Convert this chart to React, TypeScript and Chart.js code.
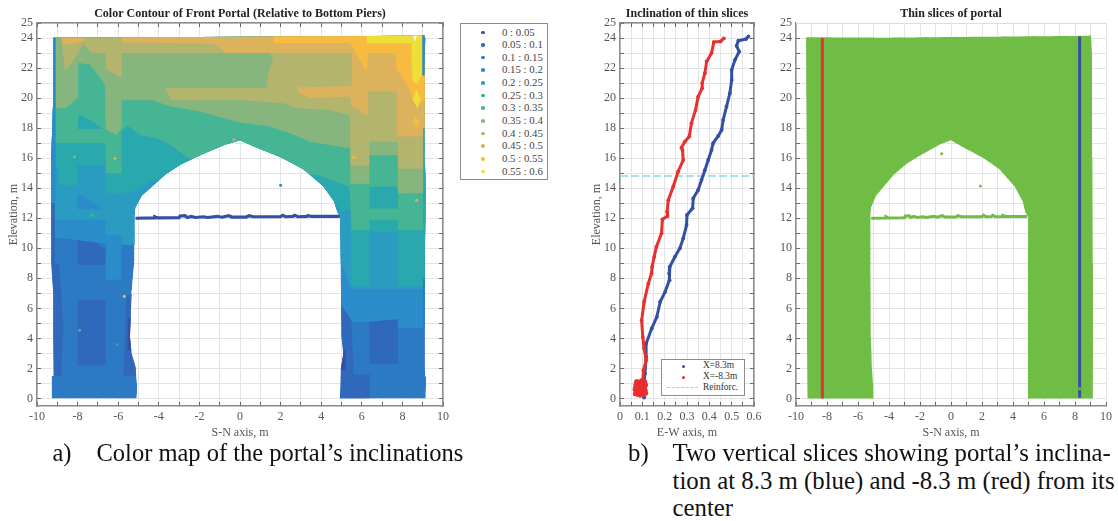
import React, { useEffect, useRef } from "react";
import { Chart, registerables } from "chart.js";
Chart.register(...registerables);

type Pt = [number, number];
const SERIF = '"Liberation Serif", "Times New Roman", serif';

// ---------- tick values ----------
const elevationTicks = [0,1,2,3,4,5,6,7,8,9,10,11,12,13,14,15,16,17,18,19,20,21,22,23,24,25];
const elevationLabels = [0,2,4,6,8,10,12,14,16,18,20,22,24,25];
const snTicks = [-10,-9,-8,-7,-6,-5,-4,-3,-2,-1,0,1,2,3,4,5,6,7,8,9,10];
const snLabels = [-10,-8,-6,-4,-2,0,2,4,6,8,10];
const ewTicks = [0,0.05,0.1,0.15,0.2,0.25,0.3,0.35,0.4,0.45,0.5,0.55,0.6];
const ewLabels = [0,0.1,0.2,0.3,0.4,0.5,0.6];

// ---------- legend ----------
const levelLabels = ["0 : 0.05","0.05 : 0.1","0.1 : 0.15","0.15 : 0.2","0.2 : 0.25","0.25 : 0.3","0.3 : 0.35","0.35 : 0.4","0.4 : 0.45","0.45 : 0.5","0.5 : 0.55","0.55 : 0.6"];
const levelColors = ["#3650a8","#3068bb","#2c7ac3","#2a8cc8","#2a9cc2","#29a8ae","#46b594","#86b67e","#b3b56e","#dcb25c","#f6bb40","#ece036"];

// ---------- portal shape ----------
const portalOutline: Pt[] = [[-9.28,0],[-9.28,1.5],[-9.18,1.5],[-9.2,4],[-9.2,7],[-9.3,9],[-9.3,16],[-9.2,20],[-9.2,24.02],[-4,24.05],[2,24.1],[8.7,24.15],[8.95,24.2],[9.08,24.2],[9.12,24],[9.1,22],[9.1,16],[9.15,14],[9.1,9],[9.1,2],[9.13,1.5],[9.17,1.45],[9.15,0],[4.92,0],[4.95,0.8],[4.97,2],[5.09,3],[5,4.1],[4.96,9.2],[4.93,12.1],[4.8,12.4],[4.62,13.15],[4.09,14.15],[3.12,15.27],[2.04,16.04],[0.75,16.75],[0,17.2],[-0.75,16.9],[-1.83,16.27],[-2.9,15.6],[-3.66,14.93],[-4.3,14.15],[-4.84,13.5],[-5.16,12.7],[-5.2,12.15],[-5.2,9.2],[-5.34,7],[-5.42,4.1],[-5.34,3],[-5.14,2.1],[-5.06,0.8],[-5.09,0]];
const sliceOutline: Pt[] = [[-9.25,0],[-9.29,4],[-9.29,9],[-9.3,16],[-9.33,20],[-9.35,24.05],[-4,24.02],[2,24.08],[8.9,24.15],[9.03,24.2],[9.1,23],[9.12,16],[9.16,9],[9.16,0],[4.97,0],[4.97,3],[4.97,9],[4.98,12.1],[4.8,12.4],[4.62,13.15],[4.09,14.15],[3.12,15.27],[2.04,16.04],[0.75,16.75],[0,17.2],[-0.75,16.9],[-1.83,16.27],[-2.9,15.6],[-3.66,14.93],[-4.3,14.15],[-4.84,13.5],[-5.16,12.7],[-5.2,12.15],[-5.2,9],[-5.16,4],[-5.1,2],[-5.03,1],[-5,0]];
const lintelBeam: Pt[] = [[-5.15,12.0],[-4.2,12.02],[-4.2,12.1],[-4.05,12.02],[-3,12.04],[-2.95,12.15],[-2.7,12.17],[-2.6,12.05],[-2.4,12.12],[-2.2,12.05],[-1.8,12.1],[-1.6,12.05],[-1.1,12.13],[-0.9,12.07],[-0.55,12.17],[-0.4,12.08],[0.3,12.08],[0.45,12.17],[0.65,12.1],[2,12.1],[2.1,12.2],[2.25,12.1],[2.6,12.12],[2.7,12.2],[2.85,12.1],[3.3,12.12],[3.35,12.18],[3.5,12.12],[4.92,12.12]];
const topNotch: Pt[] = [[8.5,24.3],[8.62,23.75],[8.74,24.3]];

// ---------- colour contour, lower edge of each level ----------
const region3: Pt[] = [[-9.5,10.8],[-6.62,10.3],[-6.62,7.9],[-5.83,7.9],[-5.83,10.2],[-5,10.2],[5,6.2],[5.55,5.1],[6.37,5.1],[7.78,5.3],[7.78,4.7],[9.5,4.7],[9.5,25],[-9.5,25]];
const region4: Pt[] = [[-9.5,11.9],[-6.62,11.9],[-6.62,10.9],[-5.83,10.9],[-5.83,10.25],[-5,10.25],[5,9],[5.5,7.3],[9.5,7.3],[9.5,25],[-9.5,25]];
const region5: Pt[] = [[-9.5,15.45],[-8.95,15.45],[-8.9,14.2],[-8,14.2],[-8,15.55],[-6.62,15.55],[-6.62,13.66],[-5.83,13.66],[-5.2,13.8],[-4.5,14.5],[3.8,14.5],[5,12.5],[5.45,12.5],[5.5,7.5],[6.37,7.5],[6.37,11.1],[7.78,11.1],[7.78,7.5],[9.5,7.5],[9.5,25],[-9.5,25]];
const region6: Pt[] = [[-9.5,17],[-6.62,17],[-6.62,15],[-5.83,15],[-5.83,17.78],[-5.55,18.2],[-4.93,17.55],[-4.1,17.33],[-3.45,16.9],[-2.63,16.1],[-1,15],[2,15],[3.8,14.9],[5.4,14.1],[5.5,11.2],[6.37,11.2],[6.37,11.9],[7.78,11.9],[7.78,11.2],[9.5,11.2],[9.5,25],[-9.5,25]];
const region7: Pt[] = [[-9.5,25],[-9.08,25],[-9.08,19.33],[-8.6,19.33],[-7.97,20],[-7.97,22.33],[-7.39,22.22],[-6.81,21.22],[-6.65,20.8],[-6.62,17.9],[-6.1,17.55],[-5.83,18],[-5.83,19.85],[-4.3,19.85],[-3.45,19.44],[-1.97,19.11],[0,18.37],[1.48,18.1],[2.46,17.66],[3.45,17.1],[5.42,16.66],[5.45,14.3],[6.37,14.3],[6.37,16.2],[7.78,16.2],[7.78,13.66],[9.5,13.66],[9.5,25]];
const region8: Pt[] = [[-9.5,25],[-8.85,25],[-8.78,23.7],[-8.62,21.9],[-8.5,21.9],[-7.72,23.6],[-7.3,23],[-6.62,23],[-6.62,21.9],[-5.83,21.33],[-5.83,23],[1.48,23],[1.64,22.66],[1.4,21.66],[1.31,20.67],[-3.69,20.67],[-3.37,19.85],[0,19.88],[2.13,19.66],[2.8,19.33],[4.27,19.22],[5.42,18.88],[5.45,15.5],[6.37,15.5],[6.37,17.1],[7.78,17.1],[7.78,15.3],[9.5,15.3],[9.5,25]];
const region9a: Pt[] = [[-8.78,24.5],[-8.78,23.65],[-8.3,23.6],[-7.7,23.8],[-7.7,24.5]];
const region9: Pt[] = [[-5.83,25],[-5.83,23.7],[-1.2,23.6],[-0.7,23],[5.5,23],[5.5,20.8],[2.8,20.7],[2.9,20.3],[3.5,20],[5.45,20.1],[5.45,19.5],[6.32,18.8],[6.32,20.44],[7.72,20.44],[7.72,17.44],[9.5,17.44],[9.5,25]];
const region10: Pt[] = [[1.64,25],[1.64,23.65],[5.42,23.66],[6.24,21.8],[6.32,23],[7.64,23],[7.72,21.9],[8.2,21],[8.5,20],[8.7,19.5],[8.95,19.8],[9.5,19.8],[9.5,25]];
const region10b: Pt[] = [[8.5,18.4],[8.65,18.75],[8.85,18.4],[8.7,18]];
const region11: Pt[] = [[6.24,25],[6.24,23.65],[8.45,23.65],[8.45,22.5],[8.5,21.2],[8.7,20.9],[8.95,21.5],[8.95,25]];
const region11b: Pt[] = [[8.5,19.9],[8.7,20.6],[8.9,19.9],[8.75,19.3]];

// ---------- patches of another level ----------
const leftPierRect: Pt[] = [[-8,2.2],[-6.62,2.2],[-6.62,6.55],[-8,6.55]];
const rightPierRect: Pt[] = [[6.37,2.3],[7.78,2.3],[7.78,5.2],[7,5.5],[6.37,5.2]];
const leftPierEdge: Pt[] = [[-9.4,1.5],[-8.8,1.5],[-8.7,5],[-8.9,9],[-9.4,9]];
const leftPierInner: Pt[] = [[-5.75,1.5],[-5.1,1.5],[-5.3,7],[-5.6,6.8]];
const rightPierFoot: Pt[] = [[4.8,0],[6.4,0],[6.4,1.6],[5.6,1.6],[5.5,5],[5.2,7.5],[4.8,8]];
const leftUpperRect: Pt[] = [[-8,8.9],[-6.62,8.9],[-6.62,9.9],[-7.2,10.5],[-8,10.77]];
const leftDeep: Pt[] = [[-5.55,3.2],[-5.2,3.2],[-5.3,5.4],[-5.5,5.4]];
const rightDeep: Pt[] = [[4.85,1.9],[5.2,1.9],[5.2,3.2],[4.85,3.2]];
const leftBlueRect: Pt[] = [[-8,12.6],[-7.4,12.6],[-6.8,12.6],[-7.4,13.2],[-8,13.67]];
const leftTealRect: Pt[] = [[-8,17.95],[-6.75,17.95],[-7.2,18.4],[-7.95,18.95]];
const rightTealRect: Pt[] = [[6.37,12.65],[7.78,12.65],[7.78,14.1],[6.37,14.1]];
const leftRimUpper: Pt[] = [[-9.4,13],[-9.08,13],[-9.08,25],[-9.4,25]];
const leftRimLower: Pt[] = [[-9.4,9],[-9.12,9],[-9.12,13],[-9.4,13]];
const rightRimTop: Pt[] = [[8.98,21.5],[9.3,21.5],[9.3,25],[8.98,25]];
const rightRimMid: Pt[] = [[9.02,8],[9.3,8],[9.3,18],[9.02,18]];
const rightRimLow: Pt[] = [[9.02,1.6],[9.3,1.6],[9.3,8],[9.02,8]];

// ---------- stray points of the contour ----------
const strayX = [-5.7,-7.9,-6.05,2,-6.16,5.6,-0.3,-8.15,8.7,-7.3];
const strayY = [6.8,4.55,3.6,14.2,16,16.05,17.25,16.1,13.2,12.2];
const strayLevel = [10,6,5,3,9,10,8,7,9,6];

// ---------- slices ----------
const blueSliceE = [0.575,0.564,0.53,0.522,0.534,0.515,0.5,0.5,0.492,0.477,0.462,0.455,0.44,0.417,0.41,0.395,0.38,0.365,0.35,0.328,0.325,0.3,0.298,0.283,0.268,0.246,0.223,0.22,0.222,0.202,0.18,0.165,0.142,0.117,0.117,0.112,0.105,0.108];
const blueSliceZ = [24.1,23.93,23.82,23.48,23.1,22.55,21.88,21.2,20.33,19.44,18.55,17.88,17.48,17,16.55,15.88,15.2,14.55,13.88,13.33,12.66,12.22,11.55,10.66,10,9.44,8.77,8.33,7.88,7.1,6.44,5.44,4.66,3.66,2.77,1.66,0.88,0.06];
const redSliceE = [0.465,0.45,0.42,0.41,0.388,0.38,0.368,0.368,0.35,0.338,0.32,0.31,0.29,0.275,0.28,0.283,0.26,0.238,0.216,0.211,0.213,0.19,0.186,0.163,0.153,0.144,0.141,0.127,0.108,0.097,0.102,0.108,0.117,0.105,0.102];
const redSliceZ = [23.97,23.77,23.73,23,22.44,21.66,21,20.66,20.1,19.2,18.33,17.44,17.1,16.7,16.55,15.88,15.1,14.1,13.2,12.44,12.15,11.93,11,10.1,9.44,8.77,8.33,7.66,6.44,5.2,4.1,3.33,2.55,1.88,1.22];
const redCloudE = [0.067,0.07,0.072,0.075,0.078,0.08,0.082,0.085,0.088,0.09,0.092,0.095,0.098,0.1,0.102,0.105,0.108,0.11,0.112,0.07,0.074,0.079,0.083,0.087,0.091,0.096,0.101,0.106,0.111,0.066,0.073,0.081,0.089,0.097,0.104,0.116,0.114,0.117,0.112,0.068,0.076,0.084,0.094,0.103,0.113];
const redCloudZ = [0.3,0.95,0.55,1.15,0.25,0.75,1.1,0.4,0.9,0.2,0.6,1.2,0.35,0.85,1.15,0.5,0.95,0.3,0.7,0.45,0.8,0.5,0.3,0.65,1.05,0.45,0.6,0.75,1.15,0.6,1.1,1,0.5,0.95,0.25,0.9,0.55,0.35,1.05,0.75,0.95,0.7,0.8,0.4,0.45];
const reinforcementE = [0,0.6];
const reinforcementZ = [14.82,14.82];

// ---------- thin slices map ----------
const sliceRedX = [-8.3,-8.3];
const sliceRedZ = [0,24];
const sliceBlueX = [8.3,8.3];
const sliceBlueZ = [0.05,24.1];
const greenDotsX = [-0.6,1.9,8.3];
const greenDotsZ = [16.3,14.15,0.65];

const GREEN = "#70bd46";
const RED = "#e8302f";
const BLUE = "#3450a5";

const toXY = (p: Pt[]) => p.map(([x, y]) => ({ x, y }));
const zip = (xs: number[], ys: number[]) => xs.map((x, i) => ({ x, y: ys[i] }));

const shape = (pts: Pt[], color: string, extra: any = {}) => ({
  data: toXY(pts),
  backgroundColor: color,
  borderWidth: 0,
  pointRadius: 0,
  tension: 0.0001,
  fill: "shape",
  ...extra,
});

const portalClip = {
  id: "portalClip",
  beforeDatasetsDraw(chart: any) {
    if (!chart.data.datasets.some((d: any) => d.clipToPortal)) return;
    const { ctx, scales } = chart;
    ctx.save();
    ctx.beginPath();
    portalOutline.forEach(([x, y], i) => {
      const px = scales.x.getPixelForValue(x);
      const py = scales.y.getPixelForValue(y);
      if (i === 0) ctx.moveTo(px, py);
      else ctx.lineTo(px, py);
    });
    ctx.closePath();
    ctx.clip();
    chart.$portalClipped = true;
  },
  beforeDatasetDraw(chart: any, args: any) {
    if (chart.$portalClipped && !chart.data.datasets[args.index].clipToPortal) {
      chart.ctx.restore();
      chart.$portalClipped = false;
    }
  },
  afterDatasetsDraw(chart: any) {
    if (chart.$portalClipped) {
      chart.ctx.restore();
      chart.$portalClipped = false;
    }
  },
};

const INK = "#555555";
const EDGE = "#8c8c8c";
const GRIDC = "#e4e4e4";
const TICK = 4;

function axisX(ticks: number[], labels: number[], min: number, max: number, title: string) {
  return {
    type: "linear", position: "bottom", min, max,
    afterBuildTicks: (s: any) => { s.ticks = ticks.map((value) => ({ value })); },
    afterFit: (s: any) => { s.height = 34; s.paddingLeft = 0; s.paddingRight = 0; },
    grid: { color: GRIDC, tickColor: "#666666", tickLength: -TICK, lineWidth: 1 },
    border: { display: true, color: EDGE, width: 1.5 },
    ticks: {
      autoSkip: false, maxRotation: 0, padding: 4 + TICK, color: INK,
      font: { family: SERIF, size: 12 },
      callback: (v: number) => (labels.includes(v) ? String(v) : ""),
    },
    title: { display: true, text: title, color: INK, font: { family: SERIF, size: 12, lineHeight: 1 }, padding: { top: 0, bottom: 1 } },
  };
}
function axisY(width: number, title: string | null, titlePad = 8) {
  return {
    type: "linear", position: "left", min: -0.5, max: 25,
    afterBuildTicks: (s: any) => { s.ticks = elevationTicks.map((value) => ({ value })); },
    afterFit: (s: any) => { s.width = width; s.paddingTop = 0; s.paddingBottom = 0; },
    grid: { color: GRIDC, tickColor: "#666666", tickLength: -TICK, lineWidth: 1 },
    border: { display: true, color: EDGE, width: 1.5 },
    ticks: {
      autoSkip: false, padding: 4 + TICK, color: INK,
      font: { family: SERIF, size: 12 },
      callback: (v: number) => (elevationLabels.includes(v) ? String(v) : ""),
    },
    title: title
      ? { display: true, text: title, color: INK, font: { family: SERIF, size: 12, lineHeight: 1 }, padding: { top: titlePad, bottom: 0 } }
      : { display: false },
  };
}
function frameTop(ticks: number[], min: number, max: number, strong: boolean) {
  return {
    axis: "x", type: "linear", position: "top", min, max,
    afterBuildTicks: (s: any) => { s.ticks = ticks.map((value) => ({ value })); },
    afterFit: (s: any) => { s.height = 0; s.paddingLeft = 0; s.paddingRight = 0; },
    grid: { drawOnChartArea: false, drawTicks: strong, tickColor: "#666666", tickLength: -TICK },
    border: { display: true, color: strong ? EDGE : "#dddddd", width: strong ? 1.5 : 1 },
    ticks: { display: false },
  };
}
function frameRight(strong: boolean) {
  return {
    axis: "y", type: "linear", position: "right", min: -0.5, max: 25,
    afterBuildTicks: (s: any) => { s.ticks = elevationTicks.map((value) => ({ value })); },
    afterFit: (s: any) => { s.width = 0; s.paddingTop = 0; s.paddingBottom = 0; },
    grid: { drawOnChartArea: false, drawTicks: strong, tickColor: "#666666", tickLength: -TICK },
    border: { display: strong, color: EDGE, width: 1.5 },
    ticks: { display: false },
  };
}
function baseOptions(title: string, paddingRight: number, scales: any) {
  return {
    animation: false, responsive: false, events: [],
    layout: { padding: { left: 0, right: paddingRight, top: 0, bottom: 0 } },
    plugins: {
      legend: { display: false }, tooltip: { enabled: false },
      title: {
        display: true, text: title, color: "#222222", fullSize: false,
        font: { family: SERIF, size: 12, weight: "bold", lineHeight: 1 },
        padding: { top: 8, bottom: 3 },
      },
    },
    scales,
  };
}

function contourDatasets() {
  const L = levelColors;
  const clip = { clipToPortal: true };
  const layers = [
    shape(portalOutline, L[2], clip),
    shape(leftPierRect, L[1], clip),
    shape(rightPierRect, L[1], clip),
    shape(leftPierEdge, L[1], clip),
    shape(leftPierInner, L[1], clip),
    shape(rightPierFoot, L[1], clip),
    shape(leftUpperRect, L[1], clip),
    shape(leftDeep, L[0], clip),
    shape(rightDeep, L[0], clip),
    shape(region3, L[3], clip),
    shape(region4, L[4], clip),
    shape(leftBlueRect, L[3], clip),
    shape(region5, L[5], clip),
    shape(region6, L[6], clip),
    shape(rightTealRect, L[5], clip),
    shape(leftTealRect, L[5], clip),
    shape(region7, L[7], clip),
    shape(region8, L[8], clip),
    shape(region9a, L[9], clip),
    shape(region9, L[9], clip),
    shape(region10, L[10], clip),
    shape(region10b, L[10], clip),
    shape(region11, L[11], clip),
    shape(region11b, L[11], clip),
    shape(leftRimUpper, L[3], clip),
    shape(leftRimLower, L[1], clip),
    shape(rightRimTop, L[3], clip),
    shape(rightRimMid, L[5], clip),
    shape(rightRimLow, L[2], clip),
    shape(topNotch, "#ffffff", clip),
  ];
  const top = [
    { data: toXY(lintelBeam), borderColor: L[0], backgroundColor: L[0], borderWidth: 3.2, pointRadius: 0, fill: false, tension: 0 },
    {
      data: zip(strayX, strayY), showLine: false, fill: false, pointRadius: 1.5, borderWidth: 0,
      pointBackgroundColor: strayLevel.map((l) => L[l]),
    },
  ];
  return [...layers, ...top].map((d: any, i) => ({ ...d, order: -i }));
}

function useChart(make: () => any) {
  const ref = useRef<HTMLCanvasElement | null>(null);
  useEffect(() => {
    const chart = new Chart(ref.current as HTMLCanvasElement, make());
    return () => chart.destroy();
  }, []);
  return ref;
}

const abs = (left: number, top: number, extra: any = {}) => ({ position: "absolute", left, top, ...extra } as React.CSSProperties);

const sliceLine = (xs: number[], ys: number[], color: string) => ({
  data: zip(xs, ys), borderColor: color, borderWidth: 3, pointRadius: 1.9, pointBackgroundColor: color,
  pointBorderWidth: 0, fill: false, tension: 0, borderCapStyle: "round", borderJoinStyle: "round",
});

export default function App() {
  const c1 = useChart(() => ({
    type: "line",
    data: { datasets: contourDatasets() },
    options: baseOptions("Color Contour of Front Portal (Relative to Bottom Piers)", 15, {
      x: axisX(snTicks, snLabels, -10, 10, "S-N axis, m"),
      y: axisY(37, "Elevation, m"),
      xTop: frameTop(snTicks, -10, 10, true),
      yRight: frameRight(true),
    }),
    plugins: [portalClip],
  }));
  const c2 = useChart(() => ({
    type: "line",
    data: {
      datasets: [
        { data: zip(redCloudE, redCloudZ), showLine: false, pointRadius: 2.2, borderWidth: 0, pointBackgroundColor: RED, fill: false },
        sliceLine(redSliceE, redSliceZ, RED),
        sliceLine(blueSliceE, blueSliceZ, BLUE),
        { data: zip(reinforcementE, reinforcementZ), borderColor: "#8fd6e2", borderWidth: 1.5, borderDash: [8, 3], pointRadius: 0, fill: false, tension: 0 },
      ],
    },
    options: baseOptions("Inclination of thin slices", 16, {
      x: axisX(ewTicks, ewLabels, 0, 0.6, "E-W axis, m"),
      y: axisY(40, "Elevation, m", 11),
      xTop: frameTop(ewTicks, 0, 0.6, true),
      yRight: frameRight(true),
    }),
  }));
  const c3 = useChart(() => ({
    type: "line",
    data: {
      datasets: [
        { data: zip(greenDotsX, greenDotsZ), showLine: false, pointRadius: 1.5, borderWidth: 0, pointBackgroundColor: GREEN, fill: false },
        { data: zip(sliceRedX, sliceRedZ), borderColor: RED, borderWidth: 3, pointRadius: 0, fill: false, tension: 0 },
        { data: zip(sliceBlueX, sliceBlueZ), borderColor: BLUE, borderWidth: 3, pointRadius: 0, fill: false, tension: 0 },
        { data: toXY(lintelBeam), borderColor: GREEN, borderWidth: 3, pointRadius: 0, fill: false, tension: 0 },
        shape(sliceOutline, GREEN),
      ],
    },
    options: baseOptions("Thin slices of portal", 12, {
      x: axisX(snTicks, snLabels, -10, 10, "S-N axis, m"),
      y: axisY(36, null),
      xTop: frameTop(snTicks, -10, 10, false),
      yRight: frameRight(false),
    }),
  }));

  const caption: React.CSSProperties = { fontFamily: SERIF, fontSize: 24.5, color: "#111", lineHeight: "28px", whiteSpace: "nowrap" };
  const captionB: React.CSSProperties = { ...caption, fontSize: 24.8 };
  const legendText: React.CSSProperties = { fontFamily: SERIF, fontSize: 10.8, color: "#444", lineHeight: "13px", whiteSpace: "nowrap" };
  const legendSmall: React.CSSProperties = { ...legendText, fontSize: 9.4, lineHeight: "11px", color: "#333" };

  return (
    <div style={{ position: "absolute", left: 0, top: 0, width: 1118, height: 521, overflow: "hidden", background: "#fff" }}>
      <canvas ref={c1} width={458} height={440} style={abs(0, 0, { width: 458, height: 440 })} />
      <canvas ref={c2} width={190} height={440} style={abs(580, 0, { width: 190, height: 440 })} />
      <canvas ref={c3} width={358} height={440} style={abs(760, 0, { width: 358, height: 440 })} />

      <div style={abs(460, 23, { width: 86, height: 155, border: "1px solid #8c8c8c", background: "#fff" })} />
      {levelLabels.map((label, i) => (
        <React.Fragment key={label}>
          <div style={abs(481, 30.5 + i * 12.66, { width: 3.5, height: 3.5, borderRadius: "50%", background: levelColors[i] })} />
          <div style={abs(502, 25.5 + i * 12.66, legendText)}>{label}</div>
        </React.Fragment>
      ))}

      <div style={abs(661, 359, { width: 82, height: 35, border: "1px solid #8c8c8c", background: "#fff" })} />
      <div style={abs(682, 364.5, { width: 3, height: 3, borderRadius: "50%", background: BLUE })} />
      <div style={abs(682, 375.5, { width: 3, height: 3, borderRadius: "50%", background: RED })} />
      <div style={abs(667, 387, { width: 31, borderTop: "1px dashed #8fd6e2" })} />
      <div style={abs(703, 360, legendSmall)}>X=8.3m</div>
      <div style={abs(703, 371, legendSmall)}>X=-8.3m</div>
      <div style={abs(703, 382, legendSmall)}>Reinforc.</div>

      <div style={abs(52.5, 439, caption)}>a)</div>
      <div style={abs(96.5, 439, caption)}>Color map of the portal’s inclinations</div>
      <div style={abs(628, 439, captionB)}>b)</div>
      <div style={abs(672.5, 439, captionB)}>Two vertical slices showing portal’s inclina-</div>
      <div style={abs(672.5, 466.5, captionB)}>tion at 8.3 m (blue) and -8.3 m (red) from its</div>
      <div style={abs(672.5, 494, captionB)}>center</div>
    </div>
  );
}
